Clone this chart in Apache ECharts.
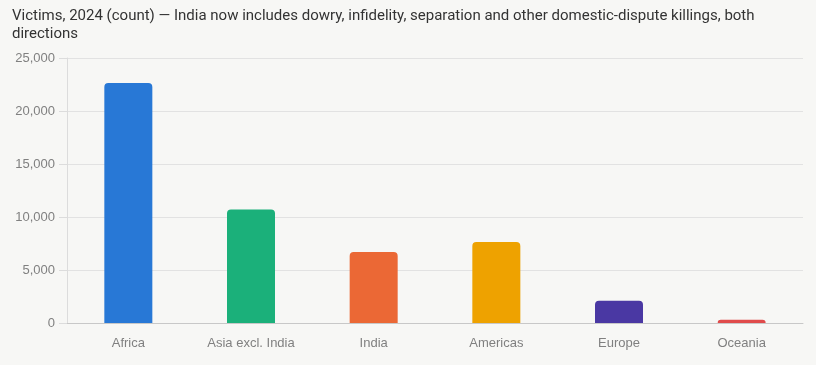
<!DOCTYPE html>
<html>
<head>
<meta charset="utf-8">
<script src="https://cdn.jsdelivr.net/npm/echarts@6/dist/echarts.min.js"></script>
<style>
  html, body { margin: 0; padding: 0; background: #f7f7f5; }
  #chart { width: 816px; height: 365px; }
</style>
</head>
<body>
<div id="chart"></div>
<script>
var regions = ["Africa", "Asia excl. India", "India", "Americas", "Europe", "Oceania"];
var victims = [22650, 10700, 6700, 7650, 2100, 300];
var barColors = ["#2878d6", "#1bb07a", "#eb6835", "#eea200", "#4a38a3", "#e04b4b"];

var myChart = echarts.init(document.getElementById("chart"));
var option = {
  backgroundColor: "#f7f7f5",
  title: {
    text: "Victims, 2024 (count) \u2014 India now includes dowry, infidelity, separation and other domestic-dispute killings, both directions",
    left: 7,
    top: 2,
    textStyle: {
      fontFamily: "Roboto",
      fontSize: 15,
      fontWeight: "normal",
      color: "#333",
      width: 790,
      overflow: "break",
      lineHeight: 18
    }
  },
  grid: { left: 67, right: 13, top: 58, bottom: 42 },
  xAxis: {
    type: "category",
    data: regions,
    axisLine: { lineStyle: { color: "#c8c8c8" } },
    axisTick: { show: false },
    axisLabel: { color: "#808080", fontFamily: "Liberation Sans", fontSize: 13, margin: 14 }
  },
  yAxis: {
    type: "value",
    min: 0,
    max: 25000,
    interval: 5000,
    axisLine: { show: true, lineStyle: { color: "#dcdcdc" } },
    axisTick: { show: true, length: 8, lineStyle: { color: "#dcdcdc" } },
    splitLine: { lineStyle: { color: "#e2e2e2" } },
    axisLabel: {
      color: "#808080",
      fontFamily: "Liberation Sans",
      fontSize: 13,
      margin: 12,
      formatter: function (v) { return v.toLocaleString("en-US"); }
    }
  },
  series: [
    {
      type: "bar",
      barWidth: 48,
      data: victims.map(function (v, i) {
        return { value: v, itemStyle: { color: barColors[i] } };
      }),
      itemStyle: { borderRadius: [4, 4, 0, 0] }
    }
  ]
};
myChart.setOption(option);
</script>
</body>
</html>
